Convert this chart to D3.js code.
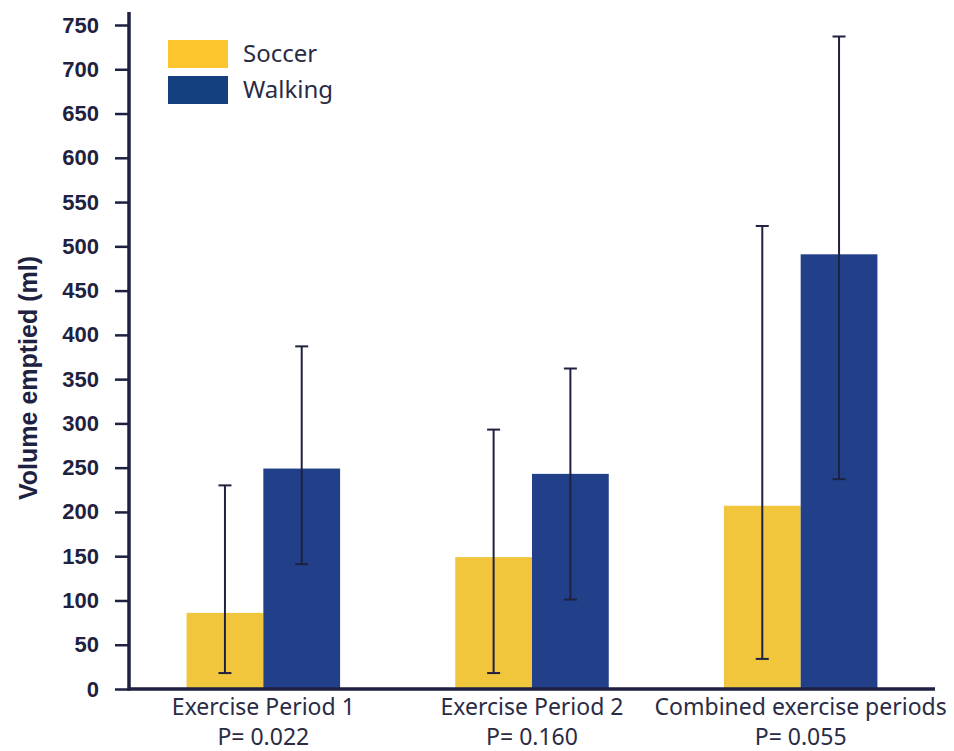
<!DOCTYPE html>
<html>
<head>
<meta charset="utf-8">
<script src="https://cdn.jsdelivr.net/npm/d3@7"></script>
<style>
  body { margin: 0; background: #fff; }
  .tick text { font-family: "Liberation Sans", Arial, sans-serif; font-weight: bold; }
</style>
</head>
<body>
<div id="chart"></div>
<script>
// data
var categories = ["Exercise Period 1", "Exercise Period 2", "Combined exercise periods"];
var pValues = ["P= 0.022", "P= 0.160", "P= 0.055"];
var seriesNames = ["Soccer", "Walking"];
var soccerMean = [86, 149, 207];
var soccerLow = [18, 18, 34];
var soccerHigh = [230, 293, 523];
var walkingMean = [249, 243, 491];
var walkingLow = [141, 101, 237];
var walkingHigh = [387, 362, 737];
var yTicks = [0, 50, 100, 150, 200, 250, 300, 350, 400, 450, 500, 550, 600, 650, 700, 750];

var w = 954, h = 751;
var margin = {left: 129, right: 19, top: 12, bottom: 62};
var ink = "#1e2140";
var barColor = {Soccer: "#f1c63c", Walking: "#22408a"};
var legendColor = {Soccer: "#fdc52e", Walking: "#15407f"};

var rows = [];
categories.forEach(function(c, i) {
    rows.push({cat: c, series: "Soccer", mean: soccerMean[i], low: soccerLow[i], high: soccerHigh[i]});
    rows.push({cat: c, series: "Walking", mean: walkingMean[i], low: walkingLow[i], high: walkingHigh[i]});
});

var svg = d3.select("#chart")
            .append("svg")
            .attr("width", w)
            .attr("height", h);

var x0 = d3.scaleBand()
            .domain(categories)
            .range([margin.left, w - margin.right])
            .padding(0);

var x1 = d3.scaleBand()
            .domain(seriesNames)
            .range([0, x0.bandwidth()])
            .paddingInner(0)
            .paddingOuter(0.75);

var yScale = d3.scaleLinear()
            .domain([0, 750])
            .range([h - margin.bottom, 25]);

// bars
svg.append("g")
    .selectAll("rect")
    .data(rows)
    .enter()
    .append("rect")
    .attr("x", function(d) { return x0(d.cat) + x1(d.series); })
    .attr("y", function(d) { return yScale(d.mean); })
    .attr("width", x1.bandwidth())
    .attr("height", function(d) { return yScale(0) - yScale(d.mean); })
    .attr("fill", function(d) { return barColor[d.series]; });

// error bars
var err = svg.append("g")
    .selectAll("g")
    .data(rows)
    .enter()
    .append("g")
    .attr("stroke", ink)
    .attr("stroke-width", 2);

function cx(d) { return x0(d.cat) + x1(d.series) + x1.bandwidth() / 2; }

err.append("line")
    .attr("x1", cx).attr("x2", cx)
    .attr("y1", function(d) { return yScale(d.low); })
    .attr("y2", function(d) { return yScale(d.high); });

err.selectAll("line.cap")
    .data(function(d) { return [{d: d, v: d.low}, {d: d, v: d.high}]; })
    .enter()
    .append("line")
    .attr("class", "cap")
    .attr("x1", function(e) { return cx(e.d) - 6.5; })
    .attr("x2", function(e) { return cx(e.d) + 6.5; })
    .attr("y1", function(e) { return yScale(e.v); })
    .attr("y2", function(e) { return yScale(e.v); });

// y axis
var yAxis = d3.axisLeft(yScale)
    .tickValues(yTicks)
    .tickSize(14)
    .tickPadding(16)
    .tickSizeOuter(0);

var yg = svg.append("g")
    .attr("transform", "translate(" + margin.left + ",0)")
    .call(yAxis);
yg.select(".domain").attr("stroke", ink).attr("stroke-width", 3.5)
    .attr("d", "M0," + (margin.top) + "V" + (yScale(0) + 1.5));
yg.selectAll(".tick line").attr("stroke", ink).attr("stroke-width", 2.5);
yg.selectAll(".tick text").attr("fill", ink).style("font-size", "22px");

// x axis
var xAxis = d3.axisBottom(x0).tickSize(0).tickPadding(10);
var xg = svg.append("g")
    .attr("transform", "translate(0," + yScale(0) + ")")
    .call(xAxis);
xg.select(".domain").attr("stroke", ink).attr("stroke-width", 3.5)
    .attr("d", "M" + (margin.left - 1.5) + ",0H" + (w - margin.right));
xg.selectAll(".tick text")
    .style("font-family", "'Noto Sans', sans-serif")
    .style("font-weight", "normal")
    .style("font-size", "23px")
    .attr("fill", "#2a2b45")
    .each(function(d, i) {
        var s = d3.select(this);
        s.text("");
        s.append("tspan").attr("x", 0).attr("dy", "0.71em").text(d);
        s.append("tspan").attr("x", 0).attr("dy", "1.3em").text(pValues[i]);
    })
    .attr("dy", null);

// y label
svg.append("text")
    .attr("transform", "translate(37,378) rotate(-90)")
    .attr("text-anchor", "middle")
    .style("font-family", "'Liberation Sans', Arial, sans-serif")
    .style("font-weight", "bold")
    .style("font-size", "25px")
    .attr("fill", ink)
    .text("Volume emptied (ml)");

// legend
var legend = svg.append("g")
    .selectAll("g")
    .data(seriesNames)
    .enter()
    .append("g")
    .attr("transform", function(d, i) { return "translate(168," + (40 + i * 36) + ")"; });

legend.append("rect")
    .attr("width", 60)
    .attr("height", 28)
    .attr("fill", function(d) { return legendColor[d]; });

legend.append("text")
    .attr("x", 75)
    .attr("y", 14)
    .attr("dy", "0.35em")
    .style("font-family", "'Noto Sans', sans-serif")
    .style("font-size", "24px")
    .attr("fill", "#2a2b45")
    .text(function(d) { return d; });
</script>
</body>
</html>
